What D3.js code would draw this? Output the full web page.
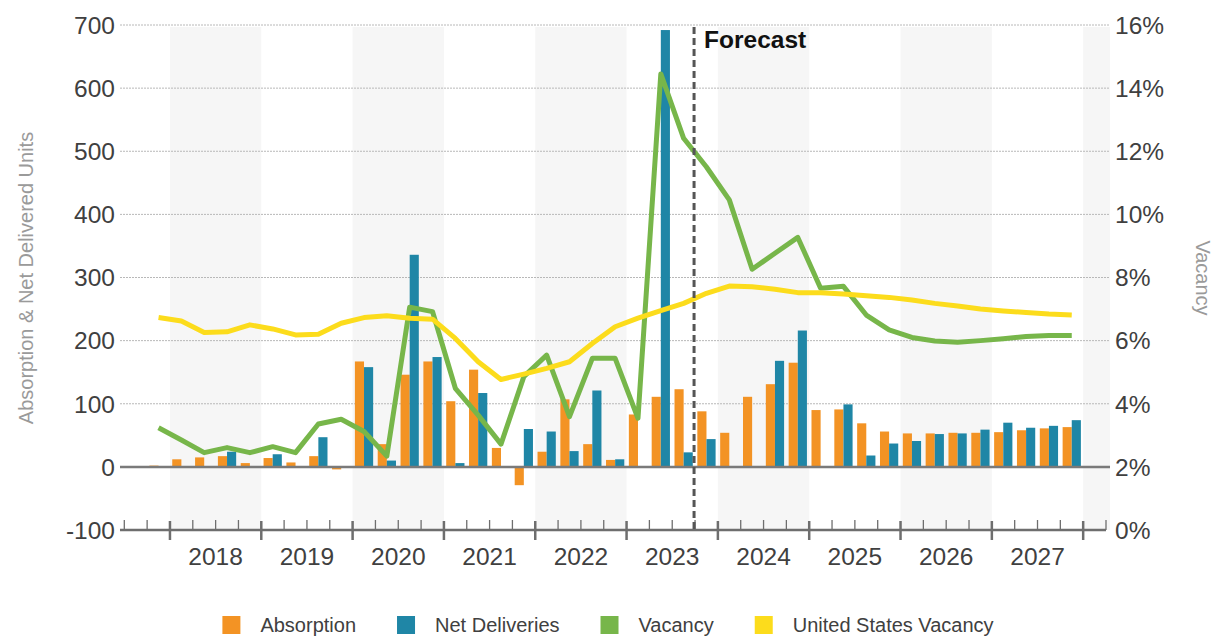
<!DOCTYPE html>
<html>
<head>
<meta charset="utf-8">
<script src="https://cdn.jsdelivr.net/npm/d3@7"></script>
<style>
  html, body { margin: 0; padding: 0; background: #ffffff; }
  svg { display: block; font-family: "Liberation Sans", Arial, sans-serif; }
</style>
</head>
<body>
<svg id="chart" width="1228" height="636"></svg>
<script>
// Quarterly categories with values
const quarters = [
  "2017 Q4",
  "2018 Q1","2018 Q2","2018 Q3","2018 Q4",
  "2019 Q1","2019 Q2","2019 Q3","2019 Q4",
  "2020 Q1","2020 Q2","2020 Q3","2020 Q4",
  "2021 Q1","2021 Q2","2021 Q3","2021 Q4",
  "2022 Q1","2022 Q2","2022 Q3","2022 Q4",
  "2023 Q1","2023 Q2","2023 Q3","2023 Q4",
  "2024 Q1","2024 Q2","2024 Q3","2024 Q4",
  "2025 Q1","2025 Q2","2025 Q3","2025 Q4",
  "2026 Q1","2026 Q2","2026 Q3","2026 Q4",
  "2027 Q1","2027 Q2","2027 Q3","2027 Q4"
];
// Empty quarters padding each end of the axis
const leadQuarter = "2017 Q3";
const trailQuarter = "2028 Q1";

const absorption = [
  2,
  12, 15, 17, 6,
  14, 7, 17, -4,
  167, 36, 146, 167,
  104, 154, 30, -29,
  24, 107, 36, 11,
  83, 111, 123, 88,
  54, 111, 131, 165,
  90, 91, 69, 56,
  53, 53, 54, 54,
  55, 58, 61, 63
];
const netDeliveries = [
  0,
  0, 0, 24, 0,
  20, 0, 47, 0,
  158, 10, 336, 174,
  6, 117, 0, 60,
  56, 25, 121, 12,
  0, 692, 23, 44,
  0, 0, 168, 216,
  0, 99, 18, 37,
  41, 52, 53, 59,
  70, 62, 65, 74
];
const vacancy = [
  3.24,
  2.85, 2.45, 2.61, 2.45,
  2.64, 2.45, 3.36, 3.51,
  3.12, 2.34, 7.06, 6.92,
  4.49, 3.64, 2.72, 4.86,
  5.54, 3.59, 5.44, 5.44,
  3.54, 14.45, 12.41, 11.5,
  10.46, 8.26, 8.77, 9.27,
  7.66, 7.72, 6.81, 6.34,
  6.10, 5.99, 5.95, 6.00,
  6.06, 6.13, 6.16, 6.16
];
const usVacancy = [
  6.73,
  6.62, 6.26, 6.28, 6.50,
  6.37, 6.18, 6.20, 6.55,
  6.73, 6.79, 6.71, 6.68,
  6.07, 5.33, 4.77, 4.94,
  5.12, 5.33, 5.91, 6.44,
  6.71, 6.95, 7.18, 7.50,
  7.73, 7.71, 7.63, 7.52,
  7.52, 7.48, 7.42, 7.37,
  7.29, 7.18, 7.10, 7.00,
  6.94, 6.89, 6.84, 6.81
];

const years = ["2018","2019","2020","2021","2022","2023","2024","2025","2026","2027"];
const shadedYears = ["2018","2020","2022","2024","2026","2028"];
const leftTicks = [-100, 0, 100, 200, 300, 400, 500, 600, 700];
const rightTicks = [0, 2, 4, 6, 8, 10, 12, 14, 16];
const forecastStart = "2023 Q4";

const seriesNames = ["Absorption", "Net Deliveries", "Vacancy", "United States Vacancy"];
const seriesColors = ["#F39324", "#1F86A6", "#77B64A", "#FCDC1C"];

const svg = d3.select("#chart");
const plotLeft = 120, plotRight = 1110, plotTop = 25, plotBottom = 530;

const x = d3.scaleBand()
  .domain([leadQuarter, ...quarters, trailQuarter])
  .range([124.3, 1106])
  .padding(0);
const bw = x.bandwidth();
const sub = d3.scaleBand()
  .domain(["Absorption", "Net Deliveries"])
  .range([0, bw])
  .paddingInner(0)
  .paddingOuter(0.25);

const yL = d3.scaleLinear().domain([-100, 700]).range([plotBottom, plotTop]);
const yR = d3.scaleLinear().domain([0, 16]).range([plotBottom, plotTop]);

// Alternating year shading
svg.append("g").selectAll("rect")
  .data(shadedYears)
  .join("rect")
  .attr("x", d => x(d + " Q1"))
  .attr("y", plotTop + 2)
  .attr("width", d => {
    const start = x(d + " Q1");
    const endQ = x(d + " Q4");
    return (endQ !== undefined ? endQ + bw : plotRight) - start;
  })
  .attr("height", plotBottom - plotTop - 2)
  .attr("fill", "#f6f6f6");

// Horizontal dotted gridlines
svg.append("g").selectAll("line")
  .data(leftTicks.filter(t => t > 0))
  .join("line")
  .attr("x1", plotLeft).attr("x2", plotRight)
  .attr("y1", d => yL(d)).attr("y2", d => yL(d))
  .attr("stroke", "#b8b8b8")
  .attr("stroke-width", 1)
  .attr("stroke-dasharray", "2,1");

// Bars
const barGroup = svg.append("g");
quarters.forEach((q, i) => {
  [["Absorption", absorption[i], seriesColors[0]], ["Net Deliveries", netDeliveries[i], seriesColors[1]]]
    .forEach(([name, v, c]) => {
      if (v === 0) return;
      barGroup.append("rect")
        .attr("x", x(q) + sub(name))
        .attr("width", sub.bandwidth())
        .attr("y", yL(Math.max(0, v)))
        .attr("height", Math.abs(yL(v) - yL(0)))
        .attr("fill", c);
    });
});

// Zero baseline
svg.append("line")
  .attr("x1", plotLeft).attr("x2", plotRight)
  .attr("y1", yL(0)).attr("y2", yL(0))
  .attr("stroke", "#7a7a7a").attr("stroke-width", 2.5);

// Vacancy lines
const line = d3.line()
  .x((d, i) => x(quarters[i]) + bw / 2)
  .y(d => yR(d));
svg.append("path")
  .datum(vacancy)
  .attr("d", line)
  .attr("fill", "none")
  .attr("stroke", seriesColors[2])
  .attr("stroke-width", 5)
  .attr("stroke-linejoin", "round");
svg.append("path")
  .datum(usVacancy)
  .attr("d", line)
  .attr("fill", "none")
  .attr("stroke", seriesColors[3])
  .attr("stroke-width", 5)
  .attr("stroke-linejoin", "round");

// Bottom axis with quarter and year ticks
const axisG = svg.append("g").attr("stroke", "#6e6e6e");
axisG.append("line")
  .attr("x1", plotLeft).attr("x2", plotRight - 4)
  .attr("y1", plotBottom).attr("y2", plotBottom)
  .attr("stroke-width", 2.5);
const tickQuarters = [...x.domain(), "end"];
tickQuarters.forEach(q => {
  const xp = q === "end" ? x.range()[1] : x(q);
  const major = q !== "end" && q.endsWith("Q1");
  axisG.append("line")
    .attr("x1", xp).attr("x2", xp)
    .attr("y1", major ? plotBottom - 9 : plotBottom - 10)
    .attr("y2", major ? plotBottom + 10 : plotBottom)
    .attr("stroke-width", major ? 2.5 : 1.3);
});

// Year labels
svg.append("g").selectAll("text")
  .data(years)
  .join("text")
  .attr("x", d => x(d + " Q1") + 2 * x.step())
  .attr("y", 565)
  .attr("text-anchor", "middle")
  .attr("font-size", 24.5)
  .attr("fill", "#404040")
  .text(d => d);

// Left tick labels
svg.append("g").selectAll("text")
  .data(leftTicks)
  .join("text")
  .attr("x", 115)
  .attr("y", d => yL(d))
  .attr("dy", "0.36em")
  .attr("text-anchor", "end")
  .attr("font-size", 24.5)
  .attr("fill", "#404040")
  .text(d => d);

// Right tick labels
svg.append("g").selectAll("text")
  .data(rightTicks)
  .join("text")
  .attr("x", 1115)
  .attr("y", d => yR(d))
  .attr("dy", "0.36em")
  .attr("text-anchor", "start")
  .attr("font-size", 24.5)
  .attr("fill", "#404040")
  .text(d => d + "%");

// Axis titles
svg.append("text")
  .attr("transform", "translate(33,278) rotate(-90)")
  .attr("text-anchor", "middle")
  .attr("font-size", 20)
  .attr("fill", "#9a9a9a")
  .text("Absorption & Net Delivered Units");
svg.append("text")
  .attr("transform", "translate(1196,278) rotate(90)")
  .attr("text-anchor", "middle")
  .attr("font-size", 20)
  .attr("fill", "#9a9a9a")
  .text("Vacancy");

// Forecast divider
const fx = x(forecastStart) - 1;
svg.append("line")
  .attr("x1", fx).attr("x2", fx)
  .attr("y1", 27).attr("y2", 532)
  .attr("stroke", "#555555")
  .attr("stroke-width", 3)
  .attr("stroke-dasharray", "7,4");
svg.append("text")
  .attr("x", fx + 10)
  .attr("y", 48)
  .attr("font-size", 24.5)
  .attr("font-weight", "bold")
  .attr("fill", "#111111")
  .text("Forecast");

// Legend
const legend = svg.append("g");
const items = seriesNames.map((name, i) => {
  const g = legend.append("g");
  g.append("rect").attr("width", 18).attr("height", 18).attr("y", 616).attr("fill", seriesColors[i]);
  const t = g.append("text").attr("x", 38).attr("y", 632).attr("font-size", 20).attr("fill", "#404040").text(name);
  return { g, w: 38 + t.node().getComputedTextLength() };
});
const gap = 41;
const totalW = d3.sum(items, d => d.w) + gap * (items.length - 1);
let cx = 608 - totalW / 2;
items.forEach(it => {
  it.g.attr("transform", `translate(${cx},0)`);
  cx += it.w + gap;
});
</script>
</body>
</html>
